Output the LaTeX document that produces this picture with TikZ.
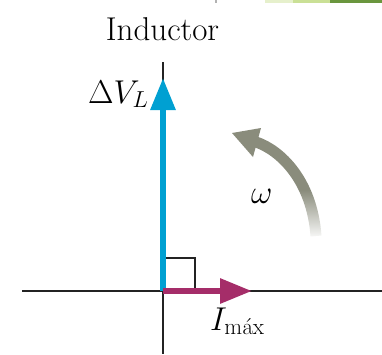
\RequirePackage{fix-cm}
\documentclass[tikz,border=0pt]{standalone}
\usetikzlibrary{arrows.meta,fadings}
\definecolor{phblue}{RGB}{0,160,210}
\definecolor{phmag}{RGB}{165,45,105}
\definecolor{omgray}{RGB}{138,140,124}
\definecolor{axcol}{RGB}{35,35,35}
\definecolor{grA}{RGB}{230,240,204}
\definecolor{grB}{RGB}{202,224,150}
\definecolor{grC}{RGB}{106,150,62}
\tikzfading[name=fadedown, top color=transparent!100, bottom color=transparent!0]
\tikzset{
  axisline/.style={draw=axcol, line width=2pt},
  phasor/.style={line width=6pt, -{Triangle[length=32pt,width=24pt]}},
  lbl/.style={inner sep=0pt, font=\fontsize{33}{38}\selectfont, text=black},
}
\begin{document}
\begin{tikzpicture}[x=1pt,y=-1pt]
\useasboundingbox (0,0) rectangle (382,354);
% top strip
\fill[grA] (265,0) rectangle (293,2.5);
\fill[grB] (293,0) rectangle (330,2.5);
\fill[grC] (330,0) rectangle (382,2.5);
\draw[black!30, line width=1.2pt] (216,0) -- (216,3);
% coordinates
\coordinate (O) at (163,291);
\coordinate (Lft) at (22,291);
\coordinate (Rgt) at (382,291);
\coordinate (Top) at (163,62);
\coordinate (Bot) at (163,354);
\coordinate (Vtip) at (163,78);
\coordinate (Itip) at (252,291);
% axes
\draw[axisline] (Lft) -- (Rgt);
\draw[axisline] (Top) -- (Bot);
% right angle
\draw[axcol, line width=1.3pt] (163,258) -- (195,258) -- (195,291);
% phasors
\draw[phasor, phblue] (O) -- (Vtip);
\draw[phasor, phmag] (O) -- (Itip);
% omega arrow
\coordinate (Wa) at (256,142);
\coordinate (Wb) at (316,236);
\draw[omgray, line width=11pt] (Wa) .. controls (280,150) and (312,180) .. (Wb);
\fill[omgray] (232,133) -- (261,128) -- (253,157) -- cycle;
\fill[white, path fading=fadedown, fit fading=true] (292,190) rectangle (336,240);
% labels
\node[lbl, anchor=base] (ind) at (162.5,40) {Inductor};
\node[lbl, anchor=base west] (vl) at (88,103) {$\Delta V_L$};
\node[lbl, anchor=base west] (im) at (210,330) {$I_{\mathrm{m\acute{a}x}}$};
\node[lbl, anchor=base west] (om) at (251,203) {$\omega$};
\end{tikzpicture}
\end{document}
